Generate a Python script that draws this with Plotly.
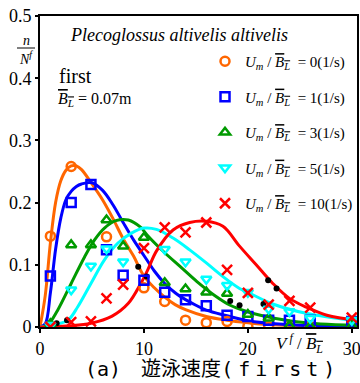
import plotly.graph_objects as go

# ---------------- data ----------------
x_ticks = [0, 10, 20, 30]
x_tick_text = ["0", "10", "20", "30"]
y_ticks = [0, 0.1, 0.2, 0.3, 0.4, 0.5]
y_tick_text = ["0", "0.1", "0.2", "0.3", "0.4", "0.5"]

legend_labels = ["0(1/s)", "1(1/s)", "3(1/s)", "5(1/s)", "10(1/s)"]

# measured points
u0_x = [1, 3, 6.4, 10, 12, 14, 16, 18, 20, 22, 24, 26, 30]
u0_y = [0.146, 0.258, 0.145, 0.063, 0.041, 0.011, 0.007, 0.009, 0.001, 0.0, 0.0, 0.0, 0.0]

u1_x = [1, 3, 4.9, 6.4, 8, 10, 12, 14, 16, 18, 20, 22, 24, 26, 30]
u1_y = [0.082, 0.2, 0.229, 0.124, 0.083, 0.075, 0.056, 0.044, 0.034, 0.019, 0.017, 0.011, 0.011, 0.011, 0.009]

u3_x = [1, 3, 4.9, 6.4, 8, 10, 12, 14, 16, 18, 20, 22, 24, 26, 30]
u3_y = [0.005, 0.132, 0.132, 0.172, 0.13, 0.144, 0.071, 0.061, 0.056, 0.054, 0.02, 0.014, 0.002, 0.001, 0.002]

u5_x = [1, 3, 4.9, 6.4, 8, 12, 14, 16, 18, 20, 22, 24, 26, 30]
u5_y = [0.003, 0.06, 0.098, 0.126, 0.105, 0.125, 0.105, 0.077, 0.067, 0.056, 0.029, 0.025, 0.014, 0.011]

u10_x = [1, 3, 4.9, 6.4, 8, 10, 12, 14, 16, 18, 20, 22, 24, 26, 30]
u10_y = [0.0, 0.008, 0.009, 0.046, 0.068, 0.127, 0.16, 0.152, 0.168, 0.092, 0.055, 0.036, 0.042, 0.031, 0.015]

# fitted curves
c0_x = [0, 0.5, 1, 1.5, 2, 2.5, 3, 3.5, 4, 5, 6, 7, 8, 9, 10, 11, 12, 13, 14, 16, 18, 20, 22, 25, 30.5]
c0_y = [0, 0.05, 0.135, 0.2, 0.235, 0.252, 0.259, 0.259, 0.253, 0.23, 0.205, 0.175, 0.142, 0.114, 0.082, 0.063, 0.048, 0.036, 0.028, 0.017, 0.011, 0.007, 0.004, 0.002, 0.001]

c1_x = [0, 0.5, 1, 1.5, 2, 2.5, 3, 3.5, 4, 5, 6, 7, 8, 9, 10, 11, 12, 13, 14, 15, 16, 18, 20, 22, 25, 30.5]
c1_y = [0, 0.005, 0.055, 0.125, 0.175, 0.205, 0.218, 0.226, 0.23, 0.232, 0.22, 0.197, 0.168, 0.14, 0.115, 0.09, 0.07, 0.055, 0.044, 0.035, 0.027, 0.018, 0.01, 0.006, 0.003, 0.001]

c3_x = [0, 0.6, 1, 1.7, 3, 4.3, 5.25, 6.2, 7.3, 8.5, 9.7, 10.3, 11.9, 13.5, 15.1, 16.7, 18.3, 19.9, 21.2, 24, 27, 30.5]
c3_y = [0, 0.002, 0.008, 0.027, 0.07, 0.113, 0.14, 0.159, 0.171, 0.172, 0.16, 0.148, 0.121, 0.097, 0.073, 0.052, 0.035, 0.025, 0.019, 0.01, 0.005, 0.003]

c5_x = [0, 0.7, 1.5, 2.7, 3.65, 4.9, 6.2, 7.5, 8.8, 10, 11.2, 12.8, 14.4, 16, 17.6, 19.2, 20.2, 22.4, 25.6, 30.5]
c5_y = [0, 0.001, 0.004, 0.011, 0.033, 0.07, 0.108, 0.135, 0.151, 0.159, 0.157, 0.143, 0.124, 0.103, 0.081, 0.062, 0.054, 0.037, 0.022, 0.01]

c10_x = [0, 3, 4.9, 6.9, 8.5, 9.7, 10.4, 11.2, 12.8, 14.4, 16, 17.6, 19.2, 20.8, 22.4, 24, 25.6, 27.6, 30.5]
c10_y = [0, 0.002, 0.006, 0.017, 0.038, 0.07, 0.093, 0.122, 0.156, 0.168, 0.17, 0.162, 0.13, 0.1, 0.07, 0.046, 0.032, 0.019, 0.011]

# small black dots on the curves
dot_x = [1.6, 2.6, 9.45, 10.26, 18.3, 19.2, 21.5, 21.95, 22.76]
dot_y = [0.006, 0.011, 0.097, 0.081, 0.042, 0.035, 0.037, 0.075, 0.062]

# ---------------- styling ----------------
colors = ["#FF6600", "#0000FF", "#009A00", "#00FFFF", "#FF0000"]
symbols = ["circle-open", "square-open", "triangle-up-open", "triangle-down-open", "x-thin-open"]
msizes = [9, 9, 9, 9, 10]
SERIF = "Liberation Serif"

W, H = 360, 383
ML, MR, MT, MB = 40, 3, 16, 56
PW, PH = W - ML - MR, H - MT - MB


def px(x, y):
    return (x - ML) / PW, (H - MB - y) / PH


fig = go.Figure()

curves = [(c0_x, c0_y), (c1_x, c1_y), (c3_x, c3_y), (c5_x, c5_y), (c10_x, c10_y)]
points = [(u0_x, u0_y), (u1_x, u1_y), (u3_x, u3_y), (u5_x, u5_y), (u10_x, u10_y)]

for i, (cx, cy) in enumerate(curves):
    fig.add_trace(go.Scatter(x=cx, y=cy, mode="lines", showlegend=False,
                             line=dict(color=colors[i], width=3, shape="spline", smoothing=1.0),
                             hoverinfo="skip"))

fig.add_trace(go.Scatter(x=dot_x, y=dot_y, mode="markers", showlegend=False,
                         marker=dict(color="black", size=6), hoverinfo="skip"))

OL = "<span style='text-decoration:overline'><i>B</i><sub><i>L</i></sub></span>"
for i, (mx, my) in enumerate(points):
    label = "<i>U</i><sub><i>m</i></sub> / " + OL + "\u00a0 = " + legend_labels[i]
    fig.add_trace(go.Scatter(x=mx, y=my, mode="markers", name=label, legendgroup=str(i),
                             marker=dict(symbol=symbols[i], size=msizes[i], color=colors[i],
                                         line=dict(color=colors[i], width=2.5))))

lx, ly = px(205, 45)
fig.update_layout(
    width=W, height=H,
    margin=dict(l=ML, r=MR, t=MT, b=MB, pad=0, autoexpand=False),
    paper_bgcolor="white", plot_bgcolor="white",
    font=dict(family=SERIF, size=16, color="black"),
    showlegend=True,
    legend=dict(x=lx, y=ly, xanchor="left", yanchor="top", bgcolor="rgba(0,0,0,0)",
                font=dict(family=SERIF, size=15, color="black"), tracegroupgap=13,
                itemwidth=30),
    xaxis=dict(range=[0, 30.5], tickvals=x_ticks, ticktext=x_tick_text, showgrid=False,
               zeroline=False, showline=True, linecolor="black", linewidth=2, mirror=True,
               ticks="outside", ticklen=4, tickwidth=1.5, tickcolor="black",
               tickfont=dict(family=SERIF, size=18), automargin=False,
               ticklabeloverflow="allow"),
    yaxis=dict(range=[0, 0.5], tickvals=y_ticks, ticktext=y_tick_text, showgrid=False,
               zeroline=False, showline=True, linecolor="black", linewidth=2, mirror=True,
               ticks="outside", ticklen=3, tickwidth=1.5, tickcolor="black",
               tickfont=dict(family=SERIF, size=18), automargin=False,
               ticklabeloverflow="allow"),
)

ann = []


def add_text(x, y, text, size, family=SERIF, xanchor="center", align="center"):
    ax, ay = px(x, y)
    ann.append(dict(x=ax, y=ay, xref="paper", yref="paper", text=text, showarrow=False,
                    xanchor=xanchor, yanchor="middle", align=align,
                    font=dict(family=family, size=size, color="black")))


add_text(68, 35, "<i>Plecoglossus altivelis altivelis</i>", 18, xanchor="left")
add_text(57, 76, "first", 20, xanchor="left")
add_text(56, 99, OL + " = 0.07m", 16, xanchor="left")
add_text(26, 40, "<i>n</i>", 14)
add_text(26, 58, "<i>N</i><sup><i>f</i></sup>", 14)
add_text(299, 344, "<i>V</i><sup> <i>f</i></sup> / " + OL, 17)
MONO = "DejaVu Sans Mono"
caption = ("<span style='font-family:" + MONO + "'>(a)</span>\u3000遊泳速度"
           "<span style='font-family:" + MONO + ";letter-spacing:5px'>(first)</span>")
add_text(83, 367, caption, 20, family="Noto Sans CJK JP", xanchor="left")

fig.update_layout(annotations=ann)

# fraction bar of the y label
x0, y0 = px(17, 48)
x1, _ = px(35, 48)
fig.add_shape(type="line", xref="paper", yref="paper", x0=x0, x1=x1, y0=y0, y1=y0,
              line=dict(color="black", width=1))

fig.write_html("out.html")
